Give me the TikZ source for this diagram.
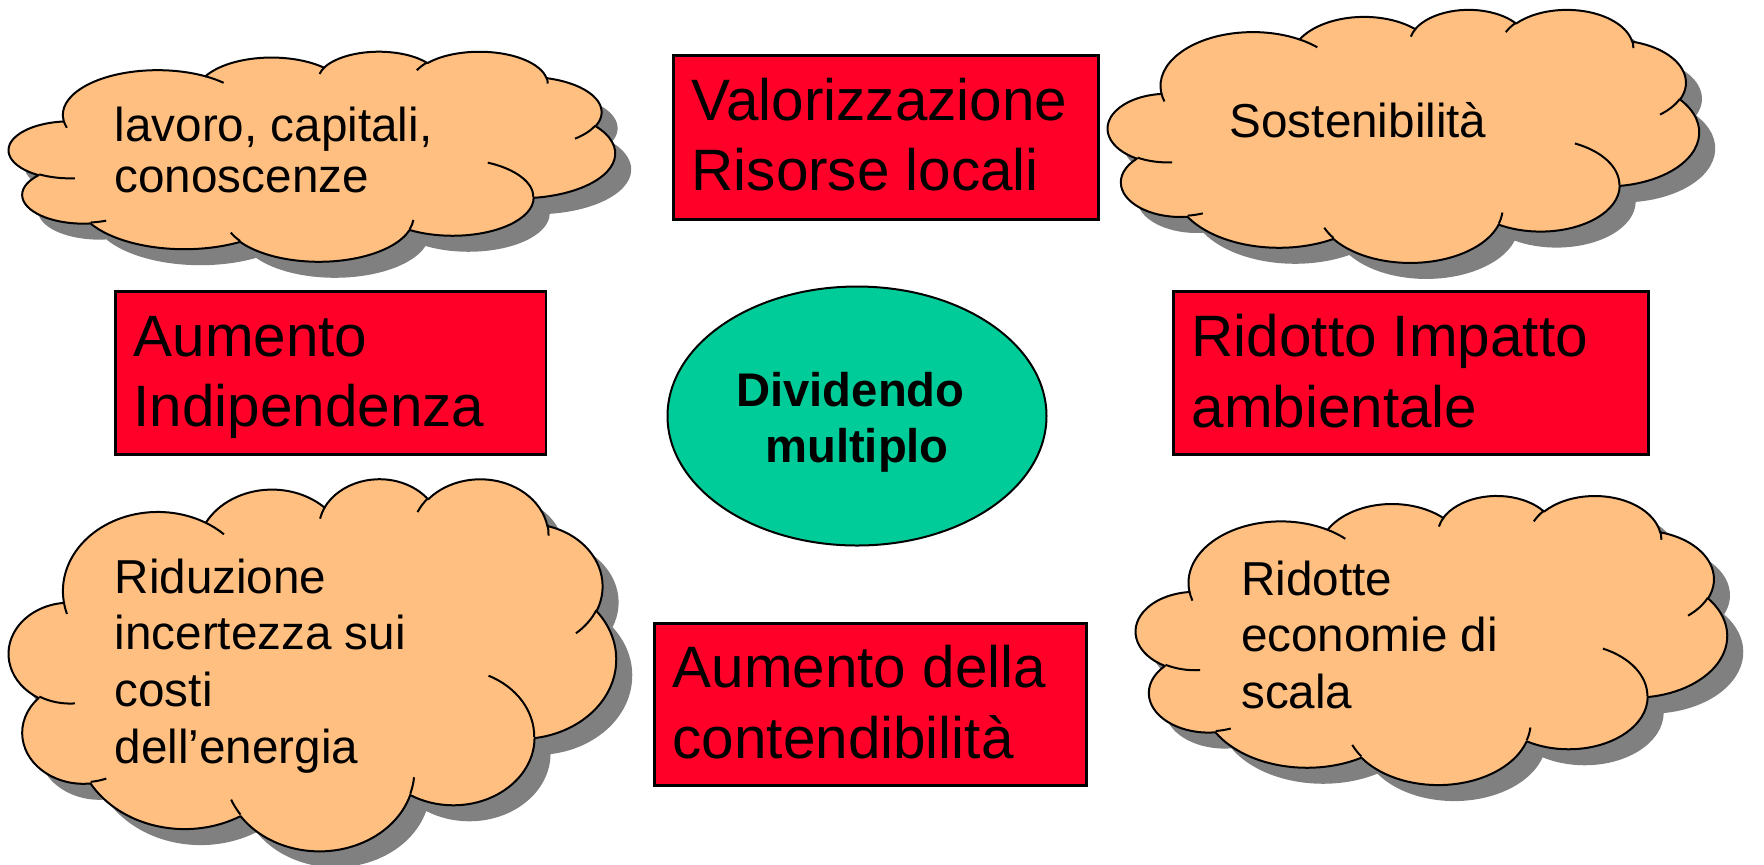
\documentclass[tikz,border=0pt]{standalone}
\usepackage{fontspec}
\setmainfont{Liberation Sans}
\usetikzlibrary{shapes.geometric}
\definecolor{boxred}{RGB}{255,0,40}
\definecolor{cloudfill}{RGB}{255,191,128}
\definecolor{ellgreen}{RGB}{0,204,153}
\definecolor{shadowgray}{RGB}{128,128,128}
% arc in OOXML convention: radii, start angle (visual), sweep (visual)
\newcommand\ooarc[4]{arc[x radius=#1, y radius=#2, start angle={atan2(#1*sin(#3),#2*cos(#3))}, delta angle={mod(atan2(#1*sin(#3+#4),#2*cos(#3+#4))-atan2(#1*sin(#3),#2*cos(#3))+720,360)}]}
\newcommand\cloudouter{(3.900,14.370)
 \ooarc{6.753}{9.190}{-190.488}{123.781}
 \ooarc{5.333}{7.267}{-144.102}{89.945}
 \ooarc{4.365}{5.945}{-145.808}{99.723}
 \ooarc{4.857}{6.595}{-130.986}{117.242}
 \ooarc{5.333}{7.273}{-78.709}{109.027}
 \ooarc{6.775}{9.220}{-46.267}{130.269}
 \ooarc{5.785}{7.867}{0.625}{114.033}
 \ooarc{6.752}{9.215}{22.452}{115.173}
 \ooarc{7.720}{10.543}{66.243}{75.711}
 \ooarc{4.360}{5.918}{-274.942}{146.736}
 \ooarc{4.345}{5.945}{-246.829}{152.519} -- cycle}
\newcommand\cloudinner{(4.693,26.177) \ooarc{4.345}{5.945}{86.742}{26.430}
 (6.928,34.899) \ooarc{4.360}{5.918}{73.611}{11.447}
 (16.478,39.090) \ooarc{6.752}{9.215}{137.624}{14.081}
 (28.827,34.751) \ooarc{6.752}{9.215}{6.453}{15.998}
 (34.129,22.954) \ooarc{5.785}{7.867}{-70.292}{70.917}
 (41.798,15.354) \ooarc{5.333}{7.273}{30.318}{27.752}
 (38.324,5.426) \ooarc{4.857}{6.595}{-13.744}{14.859}
 (29.078,3.952) \ooarc{4.857}{6.595}{-149.181}{18.195}
 (22.141,4.720) \ooarc{4.365}{5.945}{-163.494}{17.686}
 (14.000,5.192) \ooarc{6.753}{9.190}{-66.707}{12.319}
 (4.127,15.789) \ooarc{6.753}{9.190}{157.654}{11.858}}
\newcommand\drawcloud[4]{%
  \begin{scope}[shift={(#1+16,#2+16)}, xscale=#3/43.2, yscale=#4/43.2]
    \fill[shadowgray] \cloudouter;
  \end{scope}
  \begin{scope}[shift={(#1,#2)}, xscale=#3/43.2, yscale=#4/43.2]
    \filldraw[cloudshape] \cloudouter;
    \draw[cloudshape] \cloudinner;
  \end{scope}}
\newcommand\cloudfont{\fontsize{13.55pt}{16.13pt}\selectfont}
\newcommand\ellfont{\fontsize{13.43pt}{16.13pt}\selectfont\bfseries}
\newcommand\boxfont{\fontsize{16.62pt}{20.06pt}\selectfont}
\begin{document}
\begin{tikzpicture}[x=0.1mm, y=0.1mm, yscale=-1,
  cloudshape/.style={draw=black, fill=cloudfill, line width=0.2mm, line join=round},
  redbox/.style={draw=black, fill=boxred, line width=0.25mm, inner sep=0pt, anchor=north west},
  boxtext/.style={anchor=base west, inner sep=0pt, font=\boxfont},
  cloudtext/.style={anchor=base west, inner sep=0pt, font=\cloudfont},
  centerell/.style={ellipse, draw=black, fill=ellgreen, line width=0.2mm, inner sep=0pt, minimum width=37.9mm, minimum height=25.9mm}]
\useasboundingbox (0,0) rectangle (1764,864);
\fill[white] (0,0) rectangle (1764,864);
% clouds
\drawcloud{9}{51}{606}{210}
\drawcloud{1108}{9}{591}{253}
\drawcloud{9}{478}{607}{372}
\drawcloud{1136}{495}{591}{289}
% cloud texts
\node[cloudtext, font=\fontsize{13.55pt}{14.51pt}\selectfont] (c1) at (114,141.7) {\vtop{\hbox{lavoro, capitali,}\hbox{conoscenze}}};
\node[cloudtext] (c2) at (1229,137) {Sostenibilità};
\node[cloudtext] (c3) at (114,593) {\vtop{\hbox{Riduzione}\hbox{incertezza sui}\hbox{costi}\hbox{dell’energia}}};
\node[cloudtext] (c4) at (1240.5,595) {\vtop{\hbox{Ridotte}\hbox{economie di}\hbox{scala}}};
% red boxes
\node[redbox, minimum width=42.5mm, minimum height=16.4mm] (b1) at (672,54) {};
\node[redbox, minimum width=43.1mm, minimum height=16.3mm] (b2) at (114,290) {};
\node[redbox, minimum width=47.5mm, minimum height=16.3mm] (b3) at (1172,290) {};
\node[redbox, minimum width=43.2mm, minimum height=16.2mm] (b4) at (653,622) {};
\node[boxtext] (t1) at (691,120) {\vtop{\hbox{Valorizzazione}\hbox{Risorse locali}}};
\node[boxtext] (t2) at (133,356) {\vtop{\hbox{Aumento}\hbox{Indipendenza}}};
\node[boxtext] (t3) at (1191,356.5) {\vtop{\hbox{Ridotto Impatto}\hbox{ambientale}}};
\node[boxtext] (t4) at (672,687.5) {\vtop{\hbox{Aumento della}\hbox{contendibilità}}};
% central ellipse
\node[centerell] (ell) at (857,416) {};
\node[anchor=base, inner sep=0pt, font=\ellfont] (ellt) at (857,406) {\vtop{\hbox to 0pt{\hss Dividendo\hphantom{\ }\hss}\hbox to 0pt{\hss multiplo\hss}}};
\end{tikzpicture}
\end{document}
